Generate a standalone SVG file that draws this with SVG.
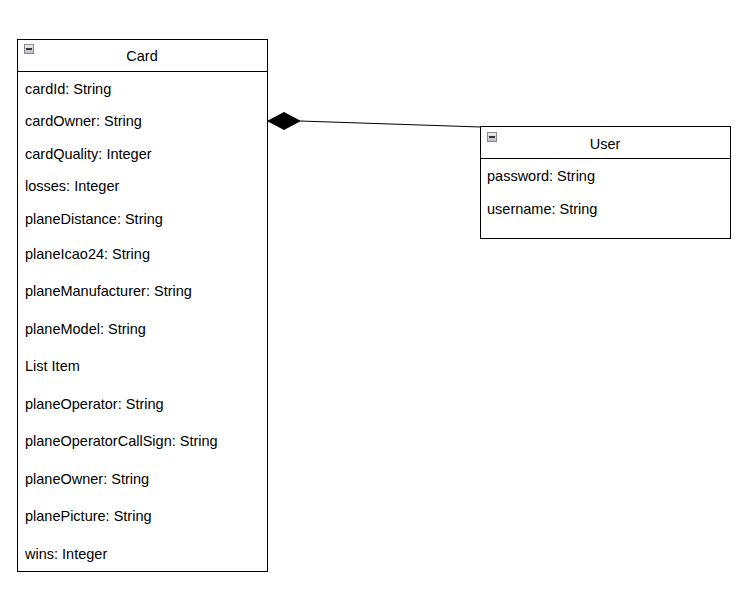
<svg xmlns="http://www.w3.org/2000/svg" width="755" height="604" viewBox="0 0 755 604">
<defs>
<linearGradient id="ig" x1="0" y1="0" x2="0" y2="1"><stop offset="0" stop-color="#f2f2f2"/><stop offset="1" stop-color="#b8b8c8"/></linearGradient>
<style>
.box{fill:#fff;stroke:#000;stroke-width:1}
.t{font-family:"Liberation Sans",Arial,sans-serif;font-size:14.5px;fill:#000}
.c{text-anchor:middle}
.ic{fill:url(#ig);stroke:#888;stroke-width:1}
</style>
</defs>
<rect width="755" height="604" fill="#fff"/>
<g id="connectors">
<line x1="300" y1="121" x2="480.5" y2="127" stroke="#000" stroke-width="1"/>
<polygon points="268,121 284,112.5 300,121 284,129.5" fill="#000" stroke="#000" stroke-width="1"/>
</g>
<g id="Card">
<rect class="box" x="17.5" y="39.5" width="250" height="532"/>
<line x1="17.5" y1="71.5" x2="267.5" y2="71.5" stroke="#000"/>
<rect class="ic" x="24.5" y="44.5" width="9" height="9"/>
<line x1="26" y1="49" x2="32" y2="49" stroke="#000" stroke-width="1.5"/>
<text class="t c" x="142" y="61">Card</text>
<text class="t" x="25" y="94">cardId: String</text>
<text class="t" x="25" y="126">cardOwner: String</text>
<text class="t" x="25" y="159">cardQuality: Integer</text>
<text class="t" x="25" y="191">losses: Integer</text>
<text class="t" x="25" y="224">planeDistance: String</text>
<text class="t" x="25" y="259">planeIcao24: String</text>
<text class="t" x="25" y="296">planeManufacturer: String</text>
<text class="t" x="25" y="334">planeModel: String</text>
<text class="t" x="25" y="371">List Item</text>
<text class="t" x="25" y="409">planeOperator: String</text>
<text class="t" x="25" y="446">planeOperatorCallSign: String</text>
<text class="t" x="25" y="484">planeOwner: String</text>
<text class="t" x="25" y="521">planePicture: String</text>
<text class="t" x="25" y="559">wins: Integer</text>
</g>
<g id="User">
<rect class="box" x="480.5" y="126.5" width="250" height="112"/>
<line x1="480.5" y1="158.5" x2="730.5" y2="158.5" stroke="#000"/>
<rect class="ic" x="487.5" y="132.5" width="9" height="9"/>
<line x1="489" y1="137" x2="495" y2="137" stroke="#000" stroke-width="1.5"/>
<text class="t c" x="605" y="149">User</text>
<text class="t" x="487" y="181">password: String</text>
<text class="t" x="487" y="214">username: String</text>
</g>
</svg>
